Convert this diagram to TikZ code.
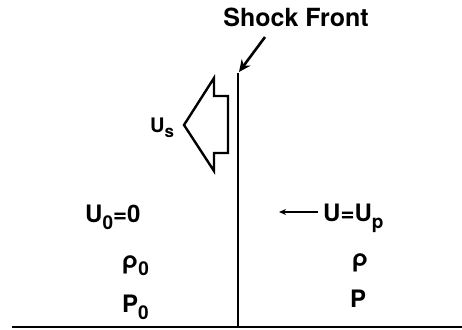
\documentclass[tikz,border=0pt]{standalone}
\usepackage{fontspec}
\setmainfont{TeX Gyre Heros}
\usetikzlibrary{arrows.meta}
\newcommand{\lowsub}[1]{\raisebox{-7pt}{\fontsize{19pt}{19pt}\selectfont #1}}
\tikzset{
  lbl/.style={inner sep=0pt, anchor=base west, font=\fontsize{24pt}{24pt}\selectfont\bfseries},
  thick line/.style={line width=2.8pt, black},
  ptr/.style={line width=2.6pt, -{Stealth[length=12pt,width=11pt]}},
  small ptr/.style={line width=1.6pt, -{Stealth[length=7pt,width=6pt]}}
}
\begin{document}
\begin{tikzpicture}[x=1pt,y=-1pt]
\useasboundingbox (0,0) rectangle (462,329);
% title
\node[lbl, font=\fontsize{25pt}{25pt}\selectfont\bfseries, anchor=base] (title) at (296,27) {Shock Front};
% shock front line and base line
\coordinate (fronttop) at (238,73);
\coordinate (frontbot) at (238,327);
\coordinate (baseL) at (12,327);
\coordinate (baseR) at (462,327);
\draw[thick line] (fronttop) -- (frontbot);
\draw[line width=2.4pt] (baseL) -- (baseR);
\coordinate (ptrstart) at (265,37);
\draw[ptr] (ptrstart) -- (239,72);
% hollow shock velocity arrow
\draw[line width=2.4pt, line join=miter]
  (184,125) -- (214,78) -- (214,96) -- (228,96) -- (228,153) -- (214,153) -- (214,171) -- cycle;
\node[lbl, font=\fontsize{20pt}{20pt}\selectfont\bfseries] (us) at (150,132) {U\raisebox{-5pt}{\fontsize{17pt}{17pt}\selectfont s}};
% left state
\node[lbl] (u0) at (85,222) {U\lowsub{0}=0};
\node[lbl] (rho0) at (122,268) {\char"03C1\lowsub{0}};
\node[lbl] (p0) at (122,312) {P\lowsub{0}};
% right state
\node[lbl] (u) at (323,221) {U=U\lowsub{p}};
\coordinate (uarrow) at (279,212);
\draw[small ptr] (u.west |- uarrow) ++(-5pt,0) -- (uarrow);
\node[lbl] (rho) at (352,266) {\char"03C1};
\node[lbl] (p) at (350,307) {P};
\end{tikzpicture}
\end{document}
